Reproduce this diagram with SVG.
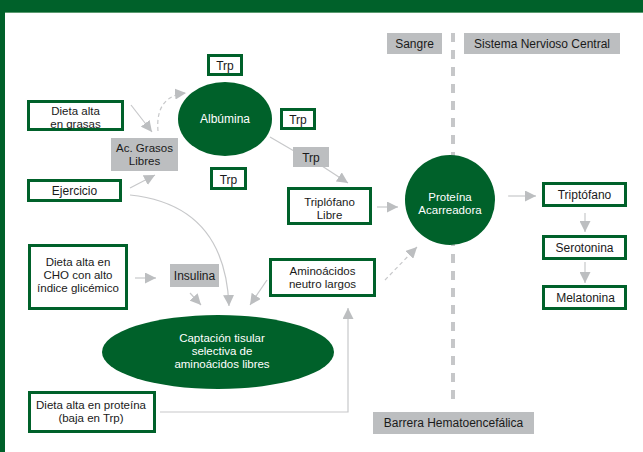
<svg xmlns="http://www.w3.org/2000/svg" width="643" height="452" viewBox="0 0 643 452">
<style>
text{font-family:"Liberation Sans",Arial,sans-serif;font-size:12px;fill:#1a1a1a;text-anchor:middle}
.m{font-size:11.5px}
.w{fill:#ffffff}
.box{fill:#ffffff;stroke:#00612a;stroke-width:3}
.lab{fill:#bcbec0}
.node{fill:#00612a}
.ln{fill:none;stroke:#c7c8ca;stroke-width:1.2}
.dash{stroke-dasharray:4 3}
</style>
<defs>
<marker id="ah" markerUnits="userSpaceOnUse" markerWidth="11" markerHeight="11" refX="10" refY="5" orient="auto" viewBox="0 0 10 10">
<path d="M0,0 L10,5 L0,10 z" fill="#bcbec0"/>
</marker>
</defs>
<rect x="0" y="0" width="643" height="12" fill="#00612a"/>
<rect x="0" y="0" width="5" height="452" fill="#00612a"/>
<line x1="5" y1="12.5" x2="643" y2="12.5" stroke="#5a9a70" stroke-width="1"/>

<g id="barrier-line">
<line x1="453" y1="33" x2="453" y2="400" stroke="#c6c7c9" stroke-width="4" stroke-dasharray="9 8"/>
</g>

<g id="connectors">
<path class="ln" d="M131,105 L152,132" marker-end="url(#ah)"/>
<path class="ln" d="M130,188 L155,175" marker-end="url(#ah)"/>
<path class="ln dash" d="M158,131 Q155,96 186,93" marker-end="url(#ah)"/>
<path class="ln" d="M130,195 Q225,205 229,306" marker-end="url(#ah)"/>
<path class="ln" d="M190,293 L201,305" marker-end="url(#ah)"/>
<path class="ln" d="M267,280 L250,305" marker-end="url(#ah)"/>
<path class="ln" d="M135,278 L156,278" marker-end="url(#ah)"/>
<path class="ln" d="M270,137 L294,151"/>
<path class="ln" d="M322,166 L348,183" marker-end="url(#ah)"/>
<path class="ln" d="M377,207 L398,207" marker-end="url(#ah)"/>
<path class="ln dash" d="M385,280 L417,247" marker-end="url(#ah)"/>
<path class="ln" d="M508,196 L536,196" marker-end="url(#ah)"/>
<path class="ln" d="M585,213 L585,232" marker-end="url(#ah)"/>
<path class="ln" d="M585,262 L585,283" marker-end="url(#ah)"/>
<path class="ln" d="M160,412 L348,412 L348,308" marker-end="url(#ah)"/>
</g>

<g id="sangre"><rect class="lab" x="387" y="33" width="55" height="21"/><text x="414.5" y="48">Sangre</text></g>
<g id="snc"><rect class="lab" x="464" y="33" width="156" height="21"/><text x="542" y="48">Sistema Nervioso Central</text></g>
<g id="barrera"><rect class="lab" x="373" y="412" width="161" height="22"/><text x="453.5" y="427">Barrera Hematoencefálica</text></g>

<g id="dieta-grasas"><rect class="box" x="28.5" y="101.5" width="94" height="28"/><text class="m" x="75.5" y="114.5">Dieta alta</text><text class="m" x="75.5" y="127.5">en grasas</text></g>
<g id="ac-grasos"><rect class="lab" x="111" y="138" width="67" height="33"/><text class="m" x="144.5" y="151.5">Ac. Grasos</text><text class="m" x="144.5" y="164.5">Libres</text></g>
<g id="ejercicio"><rect class="box" x="28.5" y="180.5" width="92" height="20"/><text x="74.5" y="195">Ejercicio</text></g>

<g id="albumina"><ellipse class="node" cx="225" cy="119" rx="47" ry="37"/><text class="w" x="225" y="123">Albúmina</text></g>
<g id="trp-top"><rect class="box" x="208.5" y="55.5" width="33" height="19"/><text x="225" y="70">Trp</text></g>
<g id="trp-right"><rect class="box" x="281.5" y="109.5" width="33" height="19"/><text x="298" y="124">Trp</text></g>
<g id="trp-bottom"><rect class="box" x="211.5" y="168.5" width="34" height="20"/><text x="228.5" y="184">Trp</text></g>
<g id="trp-gray"><rect class="lab" x="293" y="147" width="36" height="20"/><text x="311" y="162">Trp</text></g>

<g id="triptofano-libre"><rect class="box" x="288.5" y="188.5" width="82" height="35"/><text class="m" x="329.5" y="205.5">Triplófano</text><text class="m" x="329.5" y="218.5">Libre</text></g>
<g id="proteina"><circle class="node" cx="450" cy="200" r="45"/><text class="w m" x="450" y="200.5">Proteína</text><text class="w m" x="450" y="213.5">Acarreadora</text></g>

<g id="triptofano"><rect class="box" x="543.5" y="183.5" width="82" height="22"/><text x="584.5" y="199">Triptófano</text></g>
<g id="serotonina"><rect class="box" x="543.5" y="236.5" width="82" height="22"/><text x="584.5" y="252">Serotonina</text></g>
<g id="melatonina"><rect class="box" x="543.5" y="286.5" width="82" height="22"/><text x="585.5" y="302">Melatonina</text></g>

<g id="dieta-cho"><rect class="box" x="29.5" y="245.5" width="97" height="63"/><text class="m" x="78" y="266">Dieta alta en</text><text class="m" x="78" y="279">CHO con alto</text><text class="m" x="78" y="292">índice glicémico</text></g>
<g id="insulina"><rect class="lab" x="170" y="264" width="49" height="23"/><text x="194.5" y="280">Insulina</text></g>
<g id="aminoacidos"><rect class="box" x="270.5" y="259.5" width="104" height="36"/><text class="m" x="322.5" y="274.5">Aminoácidos</text><text class="m" x="322.5" y="287.5">neutro largos</text></g>

<g id="captacion"><ellipse class="node" cx="218" cy="352" rx="116" ry="37"/><text class="w m" x="222" y="342">Captación tisular</text><text class="w m" x="222" y="355">selectiva de</text><text class="w m" x="222" y="368">aminoácidos libres</text></g>

<g id="dieta-proteina"><rect class="box" x="29.5" y="392.5" width="125" height="39"/><text class="m" x="91" y="408.5">Dieta alta en proteína</text><text class="m" x="91" y="421.5">(baja en Trp)</text></g>
</svg>
